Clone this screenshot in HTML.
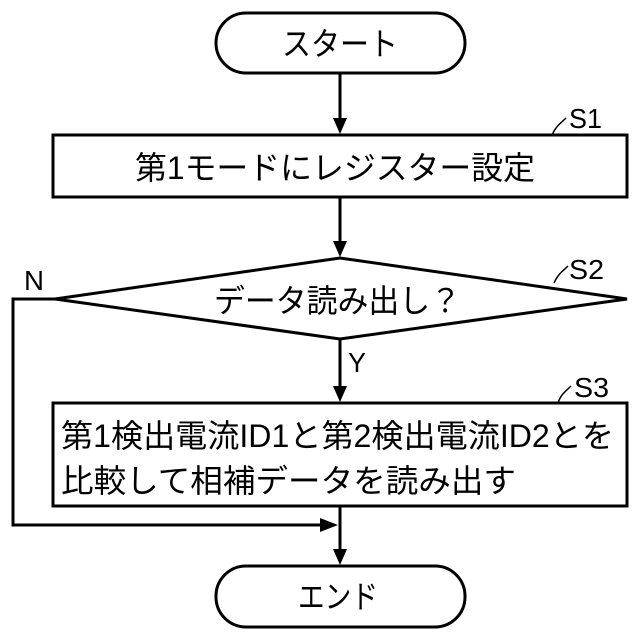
<!DOCTYPE html>
<html><head><meta charset="utf-8"><style>html,body{margin:0;padding:0;background:#fff}svg{display:block}</style></head>
<body>
<svg width="640" height="640" viewBox="0 0 640 640" xmlns="http://www.w3.org/2000/svg" font-family="'Liberation Sans','Noto Sans CJK JP',sans-serif" fill="#000">
<g stroke="#000" stroke-width="3" fill="none">
<rect x="216" y="13" width="249" height="60" rx="30"/>
<rect x="53" y="135" width="574" height="62"/>
<polygon points="55,299 340,258 627,299 340,339"/>
<rect x="53" y="403" width="574" height="103"/>
<rect x="216" y="566" width="249" height="61" rx="30"/>
</g>
<g stroke="#000" stroke-width="3">
<line x1="340" y1="73" x2="340" y2="120"/>
<line x1="340" y1="197" x2="340" y2="243"/>
<line x1="340" y1="339" x2="340" y2="388"/>
<line x1="340" y1="506" x2="340" y2="550"/>
<polyline points="55,299 13,299 13,525 322,525" fill="none"/>
</g>
<g fill="#000">
<path d="M333,118 L347,118 L340,134z"/>
<path d="M333,241 L347,241 L340,257z"/>
<path d="M333,386 L347,386 L340,402z"/>
<path d="M333,549 L347,549 L340,565z"/>
<path d="M320,518 L338,525 L320,532z"/>
</g>
<g stroke="#000" stroke-width="1.5" fill="none">
<path d="M552,135 C556,126 560,124 566,118"/>
<path d="M554,283 C558,274 562,272 568,266"/>
<path d="M558,403 C561,394 565,392 571,386"/>
</g>
<g font-size="32">
<text x="282" y="55" textLength="116" lengthAdjust="spacingAndGlyphs">スタート</text>
<text x="135" y="179" textLength="400" lengthAdjust="spacingAndGlyphs">第1モードにレジスター設定</text>
<text x="214" y="312" textLength="247" lengthAdjust="spacingAndGlyphs">データ読み出し？</text>
<text x="61" y="447" textLength="553" lengthAdjust="spacingAndGlyphs">第1検出電流ID1と第2検出電流ID2とを</text>
<text x="61" y="492" textLength="455" lengthAdjust="spacingAndGlyphs">比較して相補データを読み出す</text>
<text x="298" y="608" textLength="80" lengthAdjust="spacingAndGlyphs">エンド</text>
</g>
<g font-size="28">
<text x="569" y="128" textLength="33" lengthAdjust="spacingAndGlyphs">S1</text>
<text x="569" y="279" textLength="35" lengthAdjust="spacingAndGlyphs">S2</text>
<text x="574" y="397" textLength="35" lengthAdjust="spacingAndGlyphs">S3</text>
<text x="24" y="290" textLength="20" lengthAdjust="spacingAndGlyphs">N</text>
<text x="348" y="372" textLength="18" lengthAdjust="spacingAndGlyphs">Y</text>
</g>
</svg>
</body></html>
